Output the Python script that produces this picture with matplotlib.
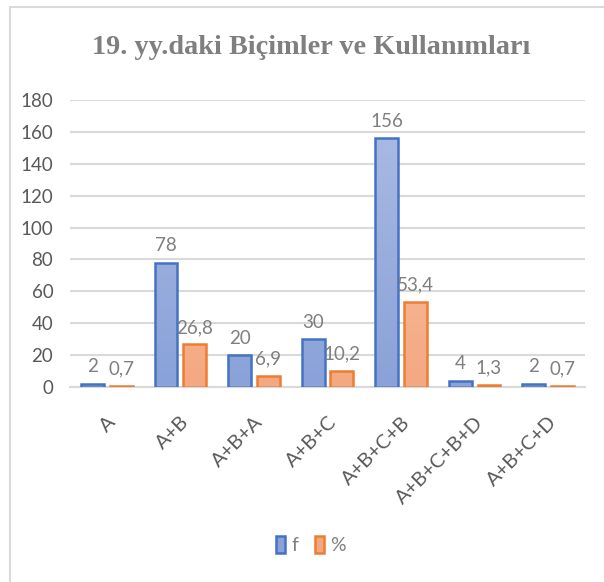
import numpy as np
import matplotlib
matplotlib.use("Agg")
import matplotlib.pyplot as plt
import matplotlib.patches as mpatches
from matplotlib.colors import LinearSegmentedColormap

categories = ["A", "A+B", "A+B+A", "A+B+C", "A+B+C+B", "A+B+C+B+D", "A+B+C+D"]
f_values = [2, 78, 20, 30, 156, 4, 2]
pct_values = [0.7, 26.8, 6.9, 10.2, 53.4, 1.3, 0.7]

title = "19. yy.daki Biçimler ve Kullanımları"
TEXT = "#7f7f7f"
GRID = "#d9d9d9"

series = [
    ("f", f_values, "#4472C4", ("#acbce3", "#8aa2d8")),
    ("%", pct_values, "#ED7D31", ("#f8c8ae", "#f4a882")),
]

fig = plt.figure(figsize=(6.04, 5.82), dpi=100)
fig.patch.set_facecolor("white")

# chart frame (left / top edges visible)
fig.patches.append(mpatches.Rectangle((10 / 604, -0.1), 1.2, 1 - 7 / 582 + 0.1,
                                      transform=fig.transFigure, fill=False,
                                      edgecolor=GRID, lw=1.5))

ax = fig.add_axes([70 / 604, 1 - 387 / 582, 515 / 604, 287 / 582])
x = np.arange(len(categories))
width = 0.31
offset = 0.195

for i, (name, vals, edge, (c_top, c_bot)) in enumerate(series):
    pos = x + (-offset if i == 0 else offset)
    bars = ax.bar(pos, vals, width, facecolor="none", edgecolor=edge, lw=1.8,
                  zorder=3, label=name)
    cmap = LinearSegmentedColormap.from_list(name, [c_bot, c_top])
    grad = np.linspace(1, 0, 64).reshape(-1, 1)
    for b in bars:
        x0, w, h = b.get_x(), b.get_width(), b.get_height()
        im = ax.imshow(grad, cmap=cmap, extent=[x0, x0 + w, 0, 180],
                       aspect="auto", zorder=2, vmin=0, vmax=1)
        im.set_clip_path(mpatches.Rectangle((x0, 0), w, h, transform=ax.transData))
    for p, v in zip(pos, vals):
        ax.annotate(f"{v:g}".replace(".", ","), (p, v), xytext=(0, 6),
                    textcoords="offset points", ha="center", va="bottom",
                    color=TEXT, fontsize=13.5, family="Lato")

ax.set_xlim(-0.5, len(categories) - 0.5)
ax.set_ylim(0, 180)
ax.set_yticks(range(0, 181, 20))
ax.yaxis.grid(True, color=GRID, lw=1.5, zorder=0)
ax.set_axisbelow(True)
for s in ["top", "right", "left"]:
    ax.spines[s].set_visible(False)
ax.spines["bottom"].set_color(GRID)
ax.spines["bottom"].set_linewidth(1.5)
ax.tick_params(length=0, colors="#595959", labelsize=13.5)
ax.tick_params(axis="y", pad=12)
ax.set_xticks(x)
ax.set_xticklabels(categories, rotation=45, ha="right", rotation_mode="anchor",
                   family="Lato", fontsize=14.5)
for lbl in ax.get_yticklabels():
    lbl.set_family("Lato")
ax.tick_params(axis="x", pad=19)

fig.text(0.515, 1 - 48 / 582, title, ha="center", va="center", fontsize=20.3,
         fontweight="bold", family="Liberation Serif", color=TEXT)

handles = [mpatches.Patch(facecolor=c[1], edgecolor=e, lw=1.8, label=n)
           for n, _, e, c in series]
leg = fig.legend(handles=handles, loc="center", bbox_to_anchor=(0.515, 1 - 545 / 582),
                 ncol=2, frameon=False, handlelength=0.45, handleheight=1.0,
                 handletextpad=0.3, columnspacing=0.9,
                 prop={"family": "Lato", "size": 14})
for t in leg.get_texts():
    t.set_color(TEXT)

fig.savefig("out.png", dpi=100)
